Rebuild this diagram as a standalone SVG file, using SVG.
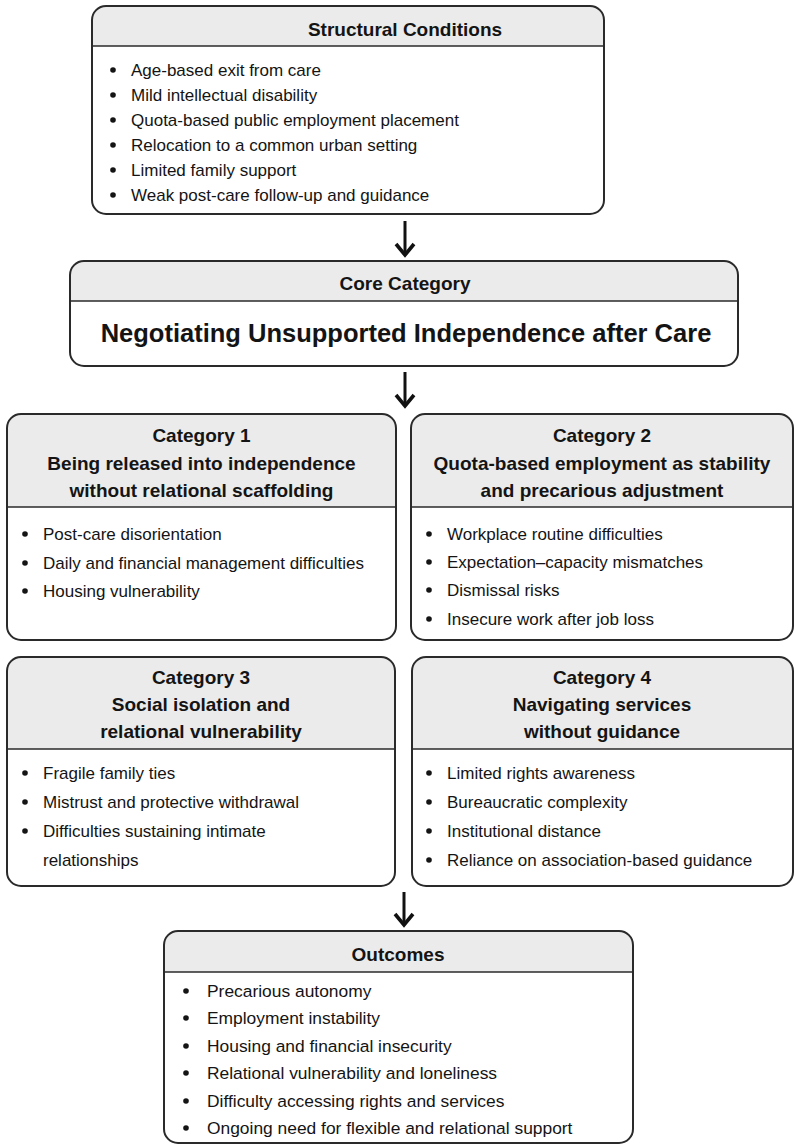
<svg xmlns="http://www.w3.org/2000/svg" width="794" height="1147" viewBox="0 0 794 1147">
<style>
.box{fill:#ffffff;stroke:#2a2a2a;stroke-width:2}
.hdr{fill:#ebebeb;stroke:none}
.div{stroke:#2a2a2a;stroke-width:1.6}
.t{font-family:"Liberation Sans",Arial,sans-serif;fill:#141414}
.h{font-weight:bold;font-size:19px;text-anchor:middle}
.b{font-size:17px}
.o{font-size:17.4px}
.dot{fill:#141414}
.arr{stroke:#111;stroke-width:3;fill:none}
.head{stroke:#111;stroke-width:3.6;fill:none;stroke-linejoin:miter}
</style>
<rect width="794" height="1147" fill="#ffffff"/>

<g id="structural">
<path class="hdr" d="M92,46 V20 A14,14 0 0 1 106,6 H590 A14,14 0 0 1 604,20 V46 Z"/>
<rect class="box" x="92" y="6" width="512" height="208" rx="14" fill="none" style="fill:none"/>
<line class="div" x1="92" y1="46" x2="604" y2="46"/>
<text class="t h" x="405" y="36">Structural Conditions</text>
<g class="dot"><circle cx="113" cy="70" r="2.8"/><circle cx="113" cy="95" r="2.8"/><circle cx="113" cy="120" r="2.8"/><circle cx="113" cy="145" r="2.8"/><circle cx="113" cy="170" r="2.8"/><circle cx="113" cy="195" r="2.8"/></g>
<text class="t b" x="131" y="76">Age-based exit from care</text>
<text class="t b" x="131" y="101">Mild intellectual disability</text>
<text class="t b" x="131" y="126">Quota-based public employment placement</text>
<text class="t b" x="131" y="151">Relocation to a common urban setting</text>
<text class="t b" x="131" y="176">Limited family support</text>
<text class="t b" x="131" y="201">Weak post-care follow-up and guidance</text>
</g>

<g id="core">
<path class="hdr" d="M70,301 V275 A14,14 0 0 1 84,261 H724 A14,14 0 0 1 738,275 V301 Z"/>
<rect class="box" x="70" y="261" width="668" height="105" rx="14" style="fill:none"/>
<line class="div" x1="70" y1="301" x2="738" y2="301"/>
<text class="t h" x="405" y="290">Core Category</text>
<text class="t" x="406" y="342" font-size="25.5" font-weight="bold" text-anchor="middle">Negotiating Unsupported Independence after Care</text>
</g>

<g id="category1">
<path class="hdr" d="M7,507 V428 A14,14 0 0 1 21,414 H382 A14,14 0 0 1 396,428 V507 Z"/>
<rect class="box" x="7" y="414" width="389" height="226" rx="14" style="fill:none"/>
<line class="div" x1="7" y1="507" x2="396" y2="507"/>
<text class="t h" x="201.5" y="442">Category 1</text>
<text class="t h" x="201.5" y="470">Being released into independence</text>
<text class="t h" x="201.5" y="497">without relational scaffolding</text>
<g class="dot"><circle cx="25" cy="534" r="2.8"/><circle cx="25" cy="563" r="2.8"/><circle cx="25" cy="591" r="2.8"/></g>
<text class="t b" x="43" y="540">Post-care disorientation</text>
<text class="t b" x="43" y="569">Daily and financial management difficulties</text>
<text class="t b" x="43" y="597">Housing vulnerability</text>
</g>

<g id="category2">
<path class="hdr" d="M411,507 V428 A14,14 0 0 1 425,414 H779 A14,14 0 0 1 793,428 V507 Z"/>
<rect class="box" x="411" y="414" width="382" height="226" rx="14" style="fill:none"/>
<line class="div" x1="411" y1="507" x2="793" y2="507"/>
<text class="t h" x="602" y="442">Category 2</text>
<text class="t h" x="602" y="470">Quota-based employment as stability</text>
<text class="t h" x="602" y="497">and precarious adjustment</text>
<g class="dot"><circle cx="429" cy="534" r="2.8"/><circle cx="429" cy="562" r="2.8"/><circle cx="429" cy="590" r="2.8"/><circle cx="429" cy="619" r="2.8"/></g>
<text class="t b" x="447" y="540">Workplace routine difficulties</text>
<text class="t b" x="447" y="568">Expectation–capacity mismatches</text>
<text class="t b" x="447" y="596">Dismissal risks</text>
<text class="t b" x="447" y="625">Insecure work after job loss</text>
</g>

<g id="category3">
<path class="hdr" d="M7,749 V671 A14,14 0 0 1 21,657 H381 A14,14 0 0 1 395,671 V749 Z"/>
<rect class="box" x="7" y="657" width="388" height="229" rx="14" style="fill:none"/>
<line class="div" x1="7" y1="749" x2="395" y2="749"/>
<text class="t h" x="201" y="684">Category 3</text>
<text class="t h" x="201" y="711">Social isolation and</text>
<text class="t h" x="201" y="738">relational vulnerability</text>
<g class="dot"><circle cx="25" cy="773" r="2.8"/><circle cx="25" cy="802" r="2.8"/><circle cx="25" cy="831" r="2.8"/></g>
<text class="t b" x="43" y="779">Fragile family ties</text>
<text class="t b" x="43" y="808">Mistrust and protective withdrawal</text>
<text class="t b" x="43" y="837">Difficulties sustaining intimate</text>
<text class="t b" x="43" y="866">relationships</text>
</g>

<g id="category4">
<path class="hdr" d="M412,749 V671 A14,14 0 0 1 426,657 H779 A14,14 0 0 1 793,671 V749 Z"/>
<rect class="box" x="412" y="657" width="381" height="229" rx="14" style="fill:none"/>
<line class="div" x1="412" y1="749" x2="793" y2="749"/>
<text class="t h" x="602" y="684">Category 4</text>
<text class="t h" x="602" y="711">Navigating services</text>
<text class="t h" x="602" y="738">without guidance</text>
<g class="dot"><circle cx="429" cy="773" r="2.8"/><circle cx="429" cy="802" r="2.8"/><circle cx="429" cy="831" r="2.8"/><circle cx="429" cy="860" r="2.8"/></g>
<text class="t b" x="447" y="779">Limited rights awareness</text>
<text class="t b" x="447" y="808">Bureaucratic complexity</text>
<text class="t b" x="447" y="837">Institutional distance</text>
<text class="t b" x="447" y="866">Reliance on association-based guidance</text>
</g>

<g id="outcomes">
<path class="hdr" d="M164,972 V945 A14,14 0 0 1 178,931 H619 A14,14 0 0 1 633,945 V972 Z"/>
<rect class="box" x="164" y="931" width="469" height="212" rx="14" style="fill:none"/>
<line class="div" x1="164" y1="972" x2="633" y2="972"/>
<text class="t h" x="398" y="961" font-size="20">Outcomes</text>
<g class="dot"><circle cx="186" cy="991" r="2.8"/><circle cx="186" cy="1018" r="2.8"/><circle cx="186" cy="1046" r="2.8"/><circle cx="186" cy="1073" r="2.8"/><circle cx="186" cy="1101" r="2.8"/><circle cx="186" cy="1128" r="2.8"/></g>
<text class="t o" x="207" y="997">Precarious autonomy</text>
<text class="t o" x="207" y="1024">Employment instability</text>
<text class="t o" x="207" y="1052">Housing and financial insecurity</text>
<text class="t o" x="207" y="1079">Relational vulnerability and loneliness</text>
<text class="t o" x="207" y="1107">Difficulty accessing rights and services</text>
<text class="t o" x="207" y="1134">Ongoing need for flexible and relational support</text>
</g>

<g id="connectors">
<line class="arr" x1="405" y1="221" x2="405" y2="255"/>
<polyline class="head" points="396,244 405,255 414,244"/>
<line class="arr" x1="405" y1="372" x2="405" y2="406"/>
<polyline class="head" points="396,395 405,406 414,395"/>
<line class="arr" x1="404" y1="892" x2="404" y2="925"/>
<polyline class="head" points="395,914 404,925 413,914"/>
</g>
</svg>
